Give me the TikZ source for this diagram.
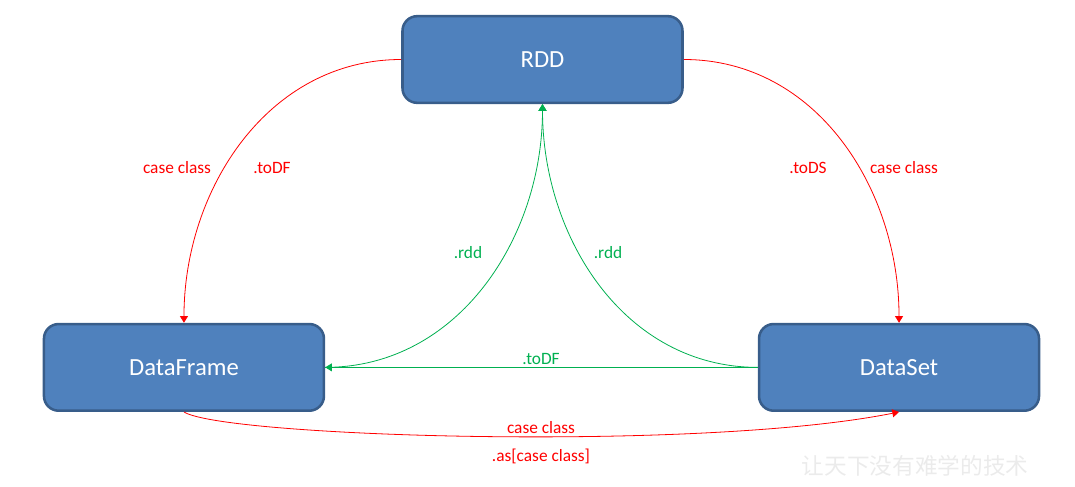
\documentclass[tikz,border=0pt]{standalone}
\usepackage{fontspec}
\setmainfont{Carlito}
\newfontfamily\cjkfont{Noto Sans CJK SC}
\usepackage{tikz}
\usetikzlibrary{arrows.meta,positioning}

\definecolor{boxblue}{HTML}{4F81BD}
\definecolor{boxline}{HTML}{385D8A}
\definecolor{offgreen}{HTML}{00B050}

\begin{document}
\begin{tikzpicture}[x=0.75pt,y=0.75pt,->,>={Stealth[inset=0pt,length=5pt,width=6pt]},semithick,
      main/.style={rectangle,rounded corners=11pt,draw=boxline,line width=1.9pt,
        fill=boxblue,text=white,minimum width=210pt,minimum height=65pt,
        font=\fontsize{18.5}{22}\selectfont},
      lbl/.style={font=\fontsize{13}{15}\selectfont},
      redarc/.style={draw=red},
      greenarc/.style={draw=offgreen}]
        \useasboundingbox (0,0) rectangle (1075,-486);
        \node[main] (rdd) at (542.5,-59.5) {RDD};
        \node[main] (df) [below left = 164pt and 57pt of rdd] {DataFrame};
        \node[main] (ds) [below right = 164pt and 55.5pt of rdd] {DataSet};
        % conversions from RDD
        \draw[redarc] (rdd.west) to[out=180,in=90] (df.north);
        \draw[redarc] (rdd.east) to[out=0,in=90] (ds.north);
        \draw[redarc] (df.south) .. controls +(40,-25) and +(-200,-40) .. (ds.south);
        % back to RDD
        \draw[greenarc] (ds.west) -- (df.east);
        \draw[greenarc] (df.east) to[out=0,in=-90] (rdd.south);
        \draw[greenarc] (ds.west) to[out=180,in=-90] (rdd.south);
        \node[lbl,text=red] (dfcase) at (177,-168) {case class};
        \node[lbl,text=red] (dfto) at (272,-168) {.toDF};
        \node[lbl,text=red] (dsto) at (808,-168) {.toDS};
        \node[lbl,text=red] (dscase) at (904,-168) {case class};
        \node[lbl,text=red] (ascase) at (541,-428) {case class};
        \node[lbl,text=red] (as) at (541,-456) {.as[case class]};
        \node[lbl,text=offgreen] (dfrdd) at (468,-253) {.rdd};
        \node[lbl,text=offgreen] (dsrdd) at (608,-253) {.rdd};
        \node[lbl,text=offgreen] (todf) at (541,-359) {.toDF};
        \node[text=black!8,font=\cjkfont\fontsize{17}{20}\selectfont] (mark)
             at (915,-466) {让天下没有难学的技术};
\end{tikzpicture}
\end{document}
